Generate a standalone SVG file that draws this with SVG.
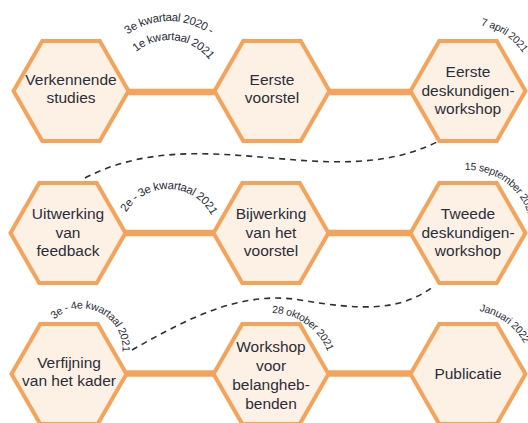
<svg xmlns="http://www.w3.org/2000/svg" xmlns:xlink="http://www.w3.org/1999/xlink" width="528" height="423" viewBox="0 0 528 423">
<style>
.hex{fill:#FDF1E5;stroke:#F5A35B;stroke-width:4;stroke-linejoin:miter}
.bar{stroke:#F5A35B;stroke-width:6.5;fill:none}
.dash{stroke:#2e2e36;stroke-width:1.6;fill:none;stroke-dasharray:6 5}
.lbl{font-family:"Liberation Sans",Arial,sans-serif;font-size:15.5px;fill:#2b2d3a;text-anchor:middle}
.date{font-family:"Liberation Sans",Arial,sans-serif;font-size:11.5px;letter-spacing:-0.35px;fill:#2b2d3a}
.date2{font-family:"Liberation Sans",Arial,sans-serif;font-size:10.5px;letter-spacing:-0.3px;fill:#2b2d3a}
</style>
<defs>
<polygon id="hex" points="-57.5,0 -28.75,-50 28.75,-50 57.5,0 28.75,50 -28.75,50"/>
<path id="a1" d="M99,91 A70,70 0 0 1 239,91"/>
<path id="a2" d="M118,91 A51,51 0 0 1 220,91"/>
<path id="a3" d="M119,238 A49,49 0 0 1 217,238"/>
<path id="a4" d="M41.5,349 A40.5,40.5 0 1 1 102.25,384.07"/>
<path id="r1" d="M468,24 A67,67 0 0 1 526,124.5"/>
<path id="r2" d="M457.06,170.96 A63,63 0 0 1 522.56,264.5"/>
<path id="r3" d="M468,310 A64,64 0 0 1 523.43,406"/>
<path id="r4" d="M271,313 A61,61 0 0 1 323.83,404.5"/>
</defs>
<g id="connectors">
<line class="bar" x1="128.5" y1="92" x2="214.5" y2="92"/>
<line class="bar" x1="329.5" y1="92" x2="410.5" y2="92"/>
<line class="bar" x1="125.5" y1="233" x2="213.5" y2="233"/>
<line class="bar" x1="328.5" y1="233" x2="410.5" y2="233"/>
<line class="bar" x1="126.5" y1="373.5" x2="213.5" y2="373.5"/>
<line class="bar" x1="328.5" y1="373.5" x2="410.5" y2="373.5"/>
<path class="dash" d="M85,178 C200,118 330,195 437,142"/>
<path class="dash" d="M132,350 C185,320 240,290 300,300 C360,310 400,312 434,286"/>
</g>
<g id="n1" transform="translate(71,91)"><use href="#hex" class="hex"/><text class="lbl"><tspan x="0" y="-6.5">Verkennende</tspan><tspan x="0" y="11.5">studies</tspan></text></g>
<g id="n2" transform="translate(272,91)"><use href="#hex" class="hex"/><text class="lbl"><tspan x="0" y="-6.5">Eerste</tspan><tspan x="0" y="11.5">voorstel</tspan></text></g>
<g id="n3" transform="translate(468,91)"><use href="#hex" class="hex"/><text class="lbl"><tspan x="0" y="-14.5">Eerste</tspan><tspan x="0" y="4.5">deskundigen-</tspan><tspan x="0" y="23">workshop</tspan></text></g>
<g id="n4" transform="translate(68,233)"><use href="#hex" class="hex"/><text class="lbl"><tspan x="0" y="-14.5">Uitwerking</tspan><tspan x="0" y="4.5">van</tspan><tspan x="0" y="23">feedback</tspan></text></g>
<g id="n5" transform="translate(271,233)"><use href="#hex" class="hex"/><text class="lbl"><tspan x="0" y="-14.5">Bijwerking</tspan><tspan x="0" y="4.5">van het</tspan><tspan x="0" y="23">voorstel</tspan></text></g>
<g id="n6" transform="translate(468,233)"><use href="#hex" class="hex"/><text class="lbl"><tspan x="0" y="-14.5">Tweede</tspan><tspan x="0" y="4.5">deskundigen-</tspan><tspan x="0" y="23">workshop</tspan></text></g>
<g id="n7" transform="translate(69,374)"><use href="#hex" class="hex"/><text class="lbl"><tspan x="0" y="-6.5">Verfijning</tspan><tspan x="0" y="11.5">van het kader</tspan></text></g>
<g id="n8" transform="translate(271,374)"><use href="#hex" class="hex"/><text class="lbl"><tspan x="0" y="-22">Workshop</tspan><tspan x="0" y="-3">voor</tspan><tspan x="0" y="16">belangheb-</tspan><tspan x="0" y="34.5">benden</tspan></text></g>
<g id="n9" transform="translate(468,374)"><use href="#hex" class="hex"/><text class="lbl"><tspan x="0" y="5">Publicatie</tspan></text></g>
<g id="dates">
<text class="date" text-anchor="middle"><textPath href="#a1" startOffset="50%">3e kwartaal 2020 -</textPath></text>
<text class="date" text-anchor="middle"><textPath href="#a2" startOffset="53.3%">1e kwartaal 2021</textPath></text>
<text class="date" text-anchor="middle"><textPath href="#a3" startOffset="51%">2e - 3e kwartaal 2021</textPath></text>
<text class="date" style="font-size:10.8px"><textPath href="#a4" startOffset="33">3e - 4e kwartaal 2021</textPath></text>
<text class="date2"><textPath href="#r1" startOffset="12.9">7 april 2021</textPath></text>
<text class="date2"><textPath href="#r2" startOffset="7.7">15 september 2021</textPath></text>
<text class="date2"><textPath href="#r3" startOffset="11.2">Januari 2022</textPath></text>
<text class="date2"><textPath href="#r4" startOffset="1">28 oktober 2021</textPath></text>
</g>
</svg>
